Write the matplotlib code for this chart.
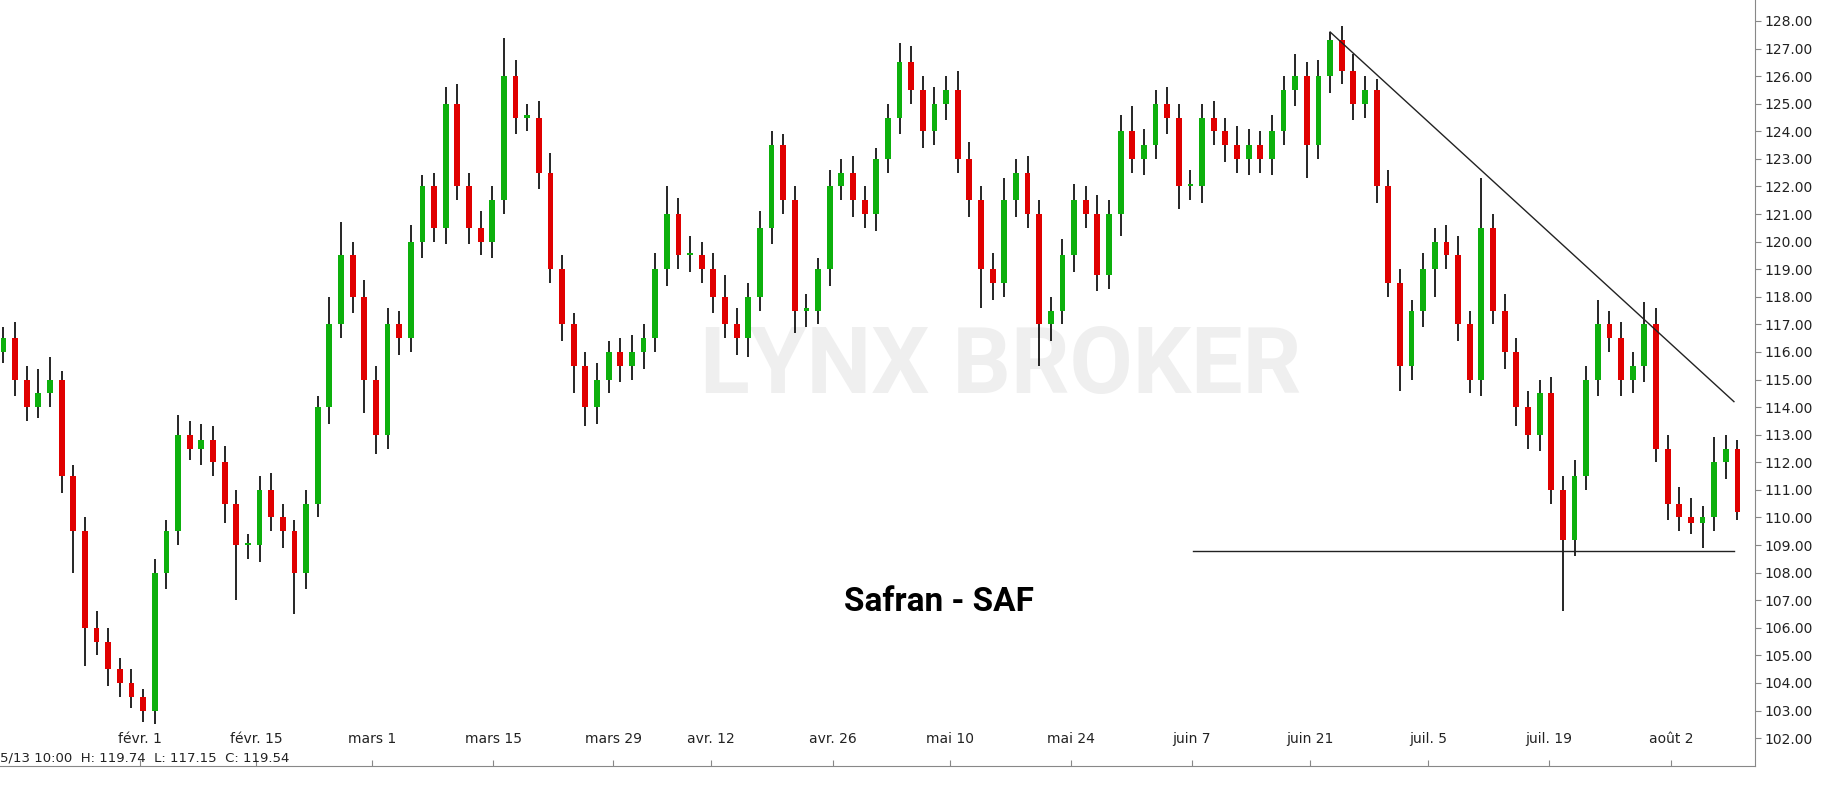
import matplotlib
matplotlib.use("Agg")
import matplotlib.pyplot as plt
import matplotlib.transforms as mtransforms

# daily closes, Jan 15 -> Aug 9
closes = [116.5, 115, 114, 114.5, 115, 111.5, 109.5, 106, 105.5, 104.5,
          104, 103.5, 103, 108, 109.5, 113, 112.5, 112.8, 112, 110.5,
          109, 109, 111, 110, 109.5, 108, 110.5, 114, 117, 119.5,
          118, 115, 113, 117, 116.5, 120, 122, 120.5, 125, 122,
          120.5, 120, 121.5, 126, 124.5, 124.5, 122.5, 119, 117, 115.5,
          114, 115, 116, 115.5, 116, 116.5, 119, 121, 119.5, 119.5,
          119, 118, 117, 116.5, 118, 120.5, 123.5, 121.5, 117.5, 117.5,
          119, 122, 122.5, 121.5, 121, 123, 124.5, 126.5, 125.5, 124,
          125, 125.5, 123, 121.5, 119, 118.5, 121.5, 122.5, 121, 117,
          117.5, 119.5, 121.5, 121, 118.8, 121, 124, 123, 123.5, 125,
          124.5, 122, 122, 124.5, 124, 123.5, 123, 123.5, 123, 124,
          125.5, 126, 123.5, 126, 127.3, 126.2, 125, 125.5, 122, 118.5,
          115.5, 117.5, 119, 120, 119.5, 117, 115, 120.5, 117.5, 116,
          114, 113, 114.5, 111, 109.2, 111.5, 115, 117, 116.5, 115,
          115.5, 117, 112.5, 110.5, 110, 109.8, 110, 112, 112.5, 110.2]
first_open = 116.0
upper_wick = [0.4, 0.6, 0.5, 0.9, 0.8, 0.3, 0.4, 0.5, 0.6, 0.5, 0.4, 0.5, 0.3, 0.5, 0.4, 0.7, 0.5, 0.6, 0.5, 0.6,
              0.5, 0.4, 0.5, 0.6, 0.5, 0.4, 0.5, 0.4, 1.0, 1.2, 0.5, 0.6, 0.5, 0.6, 0.5, 0.6, 0.4, 0.5, 0.6, 0.7,
              0.5, 0.6, 0.5, 1.4, 0.6, 0.5, 0.6, 0.7, 0.5, 0.4, 0.5, 0.6, 0.4, 0.5, 0.6, 0.5, 0.6, 1.0, 0.6, 0.7,
              0.5, 0.6, 0.8, 0.6, 0.5, 0.6, 0.5, 0.4, 0.5, 0.6, 0.4, 0.6, 0.5, 0.6, 0.5, 0.4, 0.5, 0.7, 0.6, 0.5,
              0.6, 0.5, 0.7, 0.6, 0.5, 0.6, 0.8, 0.5, 0.6, 0.5, 0.5, 0.6, 0.6, 0.5, 0.7, 0.5, 0.6, 0.9, 0.6, 0.5,
              0.6, 0.5, 0.6, 0.5, 0.6, 0.5, 0.7, 0.6, 0.5, 0.6, 0.5, 0.8, 0.5, 0.6, 0.3, 0.5, 0.6, 0.5, 0.4, 0.6,
              0.5, 0.4, 0.6, 0.5, 0.6, 0.7, 0.5, 1.8, 0.5, 0.6, 0.5, 0.6, 0.5, 0.6, 0.5, 0.6, 0.5, 0.9, 0.5, 0.6,
              0.5, 0.8, 0.6, 0.5, 0.6, 0.7, 0.4, 0.9, 0.5, 0.3]
lower_wick = [0.4, 0.6, 0.5, 0.4, 0.5, 0.6, 1.5, 1.4, 0.5, 0.6, 0.5, 0.4, 0.4, 0.5, 0.6, 0.5, 0.4, 0.6, 0.5, 0.7,
              2.0, 0.5, 0.6, 0.5, 0.6, 1.5, 0.6, 0.5, 0.6, 0.5, 0.6, 1.2, 0.7, 0.5, 0.6, 0.5, 0.6, 0.5, 0.6, 0.5,
              0.6, 0.5, 0.6, 0.5, 0.6, 0.5, 0.6, 0.5, 0.6, 1.0, 0.7, 0.6, 0.5, 0.6, 0.5, 0.6, 0.5, 0.6, 0.5, 0.6,
              0.5, 0.6, 0.5, 0.6, 0.7, 0.5, 0.6, 0.5, 0.8, 0.6, 0.5, 0.6, 0.5, 0.6, 0.5, 0.6, 0.5, 0.6, 0.5, 0.6,
              0.5, 0.6, 0.5, 0.6, 1.4, 0.6, 0.5, 0.6, 0.5, 1.5, 0.6, 0.5, 0.6, 0.5, 0.6, 0.5, 0.8, 0.5, 0.6, 0.5,
              0.6, 0.8, 0.5, 0.6, 0.5, 0.6, 0.5, 0.6, 0.5, 0.6, 0.5, 0.6, 1.2, 0.5, 0.6, 0.5, 0.6, 0.5, 0.6, 0.5,
              0.9, 0.5, 0.6, 1.0, 0.5, 0.6, 0.5, 0.6, 0.5, 0.6, 0.7, 0.5, 0.6, 0.5, 2.6, 0.6, 0.5, 0.6, 0.5, 0.6,
              0.5, 0.6, 0.5, 0.6, 0.5, 0.4, 0.9, 0.5, 0.6, 0.3]

date_labels = ['févr. 1', 'févr. 15', 'mars 1', 'mars 15', 'mars 29', 'avr. 12', 'avr. 26',
               'mai 10', 'mai 24', 'juin 7', 'juin 21', 'juil. 5', 'juil. 19', 'août 2']
date_pos = [11.7, 21.7, 31.7, 42.1, 52.4, 60.8, 71.3, 81.3, 91.7, 102.1, 112.3, 122.4, 132.8, 143.3]

# drawn trend lines (index units, price)
resistance = ([114.0, 148.7], [127.6, 114.2])
support = ([102.2, 148.7], [108.8, 108.8])

GREEN = '#0db00d'
RED = '#e00000'

fig = plt.figure(figsize=(18.28, 7.9), dpi=100)
ax = fig.add_axes([0.0, 0.03, 0.96, 0.97])

opens = [first_open] + closes[:-1]
for i, (o, c) in enumerate(zip(opens, closes)):
    hi = max(o, c) + upper_wick[i]
    lo = min(o, c) - lower_wick[i]
    ax.vlines(i, lo, hi, color='black', linewidth=1.2, zorder=2)
    col = GREEN if c >= o else RED
    ax.bar(i, max(abs(c - o), 0.08), bottom=min(o, c), width=0.5, color=col, zorder=3)

ax.plot(*resistance, color='#222222', linewidth=1.0, zorder=4)
ax.plot(*support, color='#222222', linewidth=1.0, zorder=4)

ax.set_xlim(-0.3, 150.5)
ax.set_ylim(100.98, 128.76)

ax.yaxis.tick_right()
ax.set_yticks(range(102, 129))
ax.set_yticklabels([f'{v}.00' for v in range(102, 129)], fontsize=10, color='#222222')
ax.tick_params(axis='y', length=4, color='#888888', pad=3)

ax.set_xticks(date_pos)
ax.set_xticklabels([])
ax.tick_params(axis='x', length=4, color='#888888', direction='in')
trans = mtransforms.blended_transform_factory(ax.transData, ax.transAxes)
for p, lab in zip(date_pos, date_labels):
    ax.text(p, 0.036, lab, transform=trans, ha='center', va='center', fontsize=10, color='#222222')

for s in ['top', 'left']:
    ax.spines[s].set_visible(False)
ax.spines['right'].set_color('#888888')
ax.spines['bottom'].set_color('#888888')

ax.text(0.0, 0.011, '5/13 10:00  H: 119.74  L: 117.15  C: 119.54', transform=ax.transAxes,
        ha='left', va='center', fontsize=9.5, color='#222222')
ax.text(0.57, 0.52, 'LYNX BROKER', transform=ax.transAxes, ha='center', va='center',
        fontsize=66, fontweight='bold', color='#efefef', zorder=0, family='Roboto')
ax.text(0.535, 0.215, 'Safran - SAF', transform=ax.transAxes, ha='center', va='center',
        fontsize=24, fontweight='bold', color='black', family='Roboto', zorder=5)

fig.savefig('out.png', dpi=100)
